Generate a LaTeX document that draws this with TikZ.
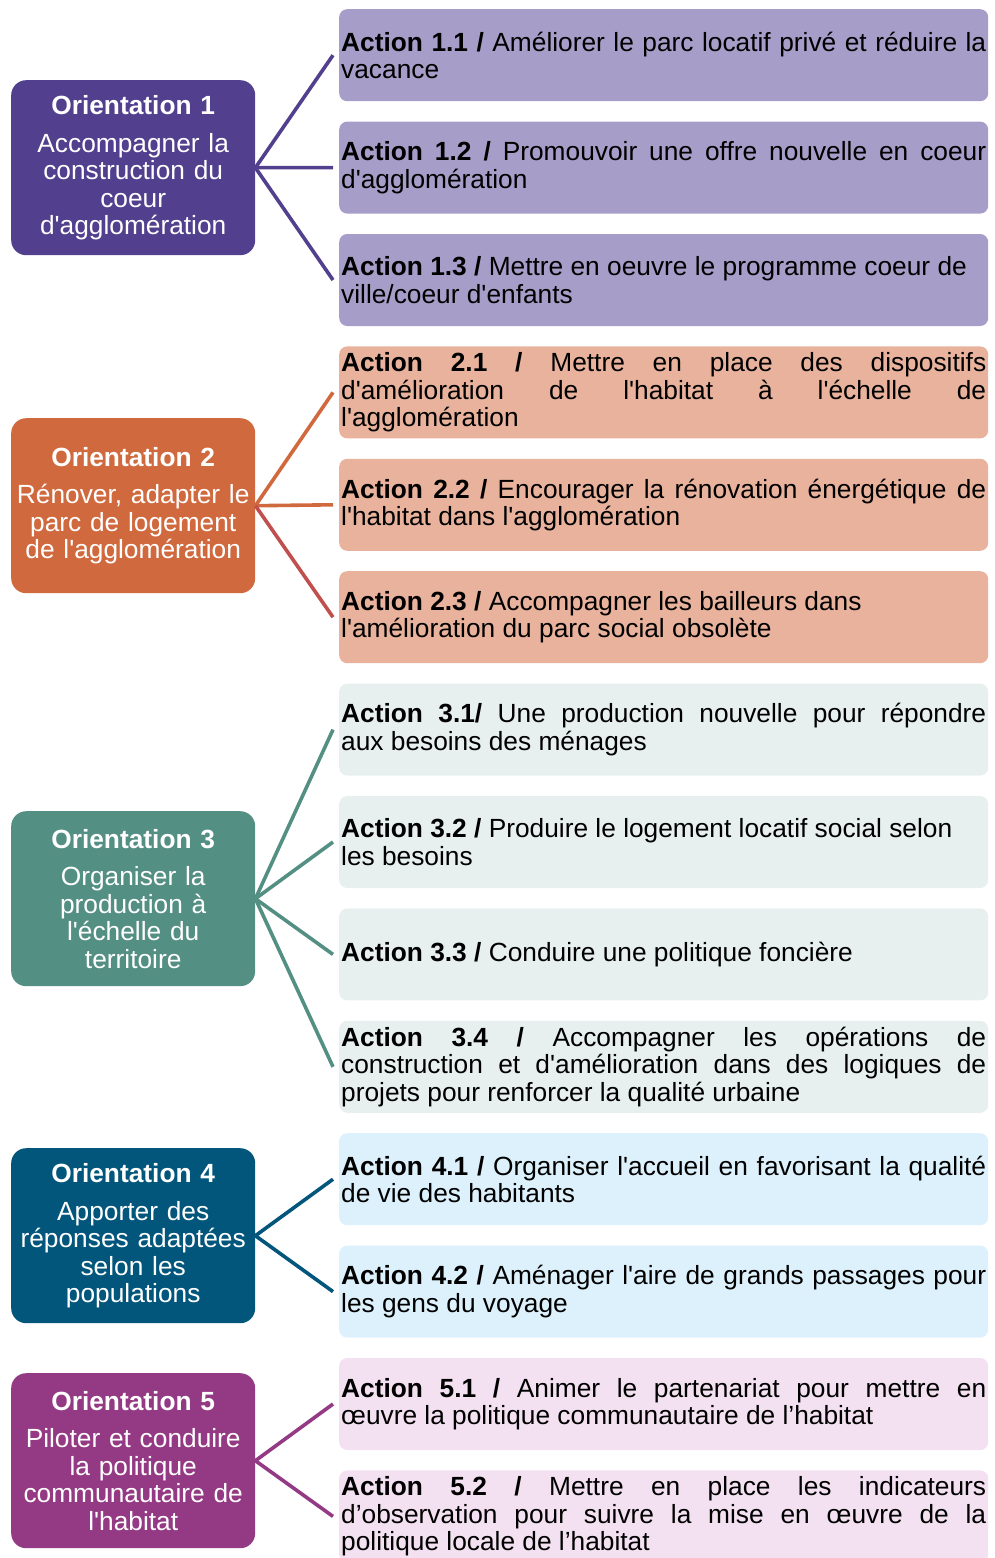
\documentclass[tikz,border=0pt]{standalone}
\usepackage{fontspec}
\setmainfont{Liberation Sans}[Ligatures=TeXOff]
\hbadness=10000 \hfuzz=30pt \vbadness=10000
\definecolor{oA}{HTML}{523F8D}\definecolor{fA}{HTML}{A69EC8}
\definecolor{oB}{HTML}{D0693E}\definecolor{fB}{HTML}{E8B29C}\definecolor{lB}{HTML}{C0504D}
\definecolor{oC}{HTML}{548F84}\definecolor{fC}{HTML}{E8F0EF}
\definecolor{oD}{HTML}{02557B}\definecolor{fD}{HTML}{DDF1FC}
\definecolor{oE}{HTML}{943A84}\definecolor{fE}{HTML}{F3E1F1}
\begin{document}
\begin{tikzpicture}[x=1pt,y=-1pt,
  orient/.style={rectangle, rounded corners=15pt, minimum width=244pt, minimum height=175pt,
    text width=240pt, inner sep=0pt, align=center, text=white, anchor=north west,
    font=\fontsize{26.3}{27.5}\selectfont},
  act/.style={rectangle, rounded corners=8pt, minimum height=92pt, text width=645pt,
    inner xsep=2pt, inner ysep=0pt, align=justify, anchor=north west,
    font=\fontsize{26.3}{27.5}\selectfont},
  link/.style={line width=3.6pt}]
\clip (0,0) rectangle (995,1558);

% Orientations
\node[orient, fill=oA] (o1) at (11,80) {{\bfseries Orientation 1}\\[10pt]Accompagner la\\construction du\\coeur\\d'agglomération};
\node[orient, fill=oB] (o2) at (11,418) {{\bfseries Orientation 2}\\[10pt]Rénover, adapter le\\parc de logement\\de l'agglomération};
\node[orient, fill=oC] (o3) at (11,811) {{\bfseries Orientation 3}\\[10pt]Organiser la\\production à\\l'échelle du\\territoire};
\node[orient, fill=oD] (o4) at (11,1148) {{\bfseries Orientation 4}\\[10pt]Apporter des\\réponses adaptées\\selon les\\populations};
\node[orient, fill=oE] (o5) at (11,1373) {{\bfseries Orientation 5}\\[10pt]Piloter et conduire\\la politique\\communautaire de\\l'habitat};

% Actions
\node[act, fill=fA] (a11) at (339,9) {\textbf{Action 1.1 /} Améliorer le parc locatif privé et réduire la\linebreak vacance};
\node[act, fill=fA] (a12) at (339,121.4) {\textbf{Action 1.2 /} Promouvoir une offre nouvelle en coeur\linebreak d'agglomération};
\node[act, fill=fA] (a13) at (339,233.8) {\textbf{Action 1.3 /} Mettre en oeuvre le programme coeur de\newline ville/coeur d'enfants};
\node[act, fill=fB] (a21) at (339,346.2) {\textbf{Action 2.1 /} Mettre en place des dispositifs\linebreak d'amélioration de l'habitat à l'échelle de\linebreak l'agglomération};
\node[act, fill=fB] (a22) at (339,458.6) {\textbf{Action 2.2 /} Encourager la rénovation énergétique de\linebreak l'habitat dans l'agglomération};
\node[act, fill=fB] (a23) at (339,571) {\textbf{Action 2.3 /} Accompagner les bailleurs dans\newline l'amélioration du parc social obsolète};
\node[act, fill=fC] (a31) at (339,683.4) {\textbf{Action 3.1/} Une production nouvelle pour répondre\linebreak aux besoins des ménages};
\node[act, fill=fC] (a32) at (339,795.8) {\textbf{Action 3.2 /} Produire le logement locatif social selon\newline les besoins};
\node[act, fill=fC] (a33) at (339,908.2) {\textbf{Action 3.3 /} Conduire une politique foncière};
\node[act, fill=fC] (a34) at (339,1020.6) {\textbf{Action 3.4 /} Accompagner les opérations de\linebreak construction et d'amélioration dans des logiques de\linebreak projets pour renforcer la qualité urbaine};
\node[act, fill=fD] (a41) at (339,1133) {\textbf{Action 4.1 /} Organiser l'accueil en favorisant la qualité\linebreak de vie des habitants};
\node[act, fill=fD] (a42) at (339,1245.4) {\textbf{Action 4.2 /} Aménager l'aire de grands passages pour\linebreak les gens du voyage};
\node[act, fill=fE] (a51) at (339,1357.8) {\textbf{Action 5.1 /} Animer le partenariat pour mettre en\linebreak œuvre la politique communautaire de l’habitat};
\node[act, fill=fE] (a52) at (339,1470.2) {\textbf{Action 5.2 /} Mettre en place les indicateurs\linebreak d’observation pour suivre la mise en œuvre de la\linebreak politique locale de l’habitat};

% Connectors
\foreach \a in {a11,a12,a13}{\draw[link, oA] (o1.east) -- ([xshift=-6pt]\a.west);}
\foreach \a in {a21,a22}{\draw[link, oB] (o2.east) -- ([xshift=-6pt]\a.west);}
\draw[link, lB] (o2.east) -- ([xshift=-6pt]a23.west);
\foreach \a in {a31,a32,a33,a34}{\draw[link, oC] (o3.east) -- ([xshift=-6pt]\a.west);}
\foreach \a in {a41,a42}{\draw[link, oD] (o4.east) -- ([xshift=-6pt]\a.west);}
\foreach \a in {a51,a52}{\draw[link, oE] (o5.east) -- ([xshift=-6pt]\a.west);}
\end{tikzpicture}
\end{document}
